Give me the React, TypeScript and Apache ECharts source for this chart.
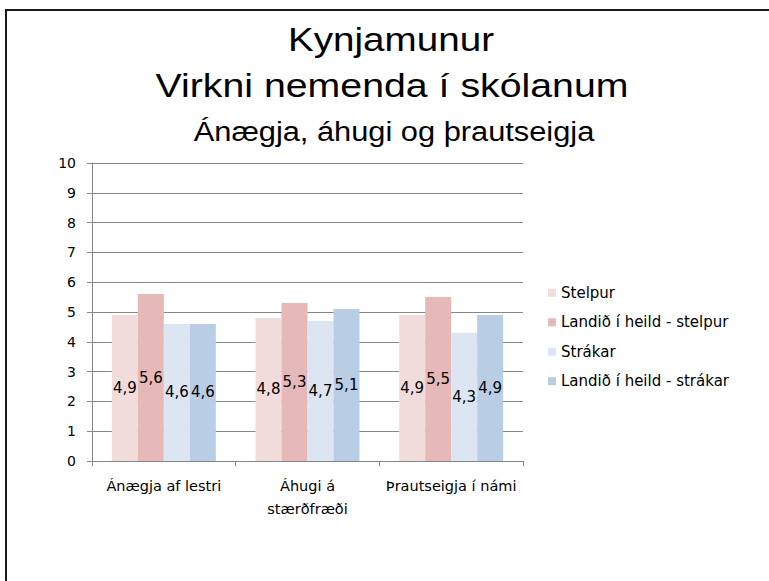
import React, { useEffect, useRef } from "react";
import * as echarts from "echarts";

const categories = ["Ánægja af lestri", "Áhugi á\nstærðfræði", "Þrautseigja í námi"];
const seriesNames = ["Stelpur", "Landið í heild - stelpur", "Strákar", "Landið í heild - strákar"];
const stelpur = [4.9, 4.8, 4.9];
const landStelpur = [5.6, 5.3, 5.5];
const strakar = [4.6, 4.7, 4.3];
const landStrakar = [4.6, 5.1, 4.9];
const colors = ["#f2dcdb", "#e6b9b8", "#dce6f2", "#b9cde5"];
const titles = ["Kynjamunur", "Virkni nemenda í skólanum", "Ánægja, áhugi og þrautseigja"];

const TFONT = "'Liberation Sans', sans-serif";
const FONT = "'DejaVu Sans', sans-serif";

export default function App() {
  const ref = useRef<HTMLDivElement>(null);
  useEffect(() => {
    if (!ref.current) return;
    const chart = echarts.init(ref.current, null, { renderer: "svg" });
    const values = [stelpur, landStelpur, strakar, landStrakar];
    chart.setOption({
      animation: false,
      backgroundColor: "#ffffff",
      textStyle: { fontFamily: FONT },
      graphic: [
        {
          type: "rect",
          shape: { x: 6, y: 10, width: 800, height: 600 },
          style: { fill: "none", stroke: "#1a1a1a", lineWidth: 2 },
          silent: true,
        },
        {
          type: "text",
          x: 391,
          y: 39.5,
          scaleX: 1.17,
          style: { text: titles[0], fontSize: 33, fontFamily: TFONT, fill: "#000", textAlign: "center", textVerticalAlign: "middle" },
        },
        {
          type: "text",
          x: 392,
          y: 85.5,
          scaleX: 1.19,
          style: { text: titles[1], fontSize: 33, fontFamily: TFONT, fill: "#000", textAlign: "center", textVerticalAlign: "middle" },
        },
        {
          type: "text",
          x: 394,
          y: 131.5,
          scaleX: 1.1,
          style: { text: titles[2], fontSize: 28, fontFamily: TFONT, fill: "#000", textAlign: "center", textVerticalAlign: "middle" },
        },
      ],
      legend: {
        orient: "vertical",
        left: 543,
        top: 280,
        itemWidth: 8,
        itemHeight: 8,
        itemGap: 14,
        icon: "rect",
        textStyle: { fontSize: 15, color: "#000", fontFamily: FONT, lineHeight: 15.5 },
        data: seriesNames,
      },
      grid: { left: 92, right: 246, top: 163, bottom: 120, containLabel: false },
      xAxis: {
        type: "category",
        data: categories,
        axisLine: { lineStyle: { color: "#868686" } },
        axisTick: { show: true, length: 5, alignWithLabel: false, lineStyle: { color: "#868686" } },
        axisLabel: { color: "#000", fontSize: 14.5, margin: 13, lineHeight: 23, interval: 0, fontFamily: FONT },
      },
      yAxis: {
        type: "value",
        min: 0,
        max: 10,
        interval: 1,
        axisLine: { show: true, lineStyle: { color: "#868686" } },
        axisTick: { show: true, length: 5, lineStyle: { color: "#868686" } },
        splitLine: { lineStyle: { color: "#868686" } },
        axisLabel: { color: "#000", fontSize: 14, margin: 16, fontFamily: FONT },
      },
      series: seriesNames.map((name, i) => ({
        name,
        type: "bar",
        data: values[i],
        barWidth: 26,
        barGap: "0%",
        itemStyle: { color: colors[i] },
        label: {
          show: true,
          position: "inside",
          fontSize: 15,
          color: "#000",
          fontFamily: FONT,
          formatter: (p: any) => String(p.value).replace(".", ","),
        },
      })),
    });
    return () => chart.dispose();
  }, []);
  return <div ref={ref} style={{ position: "fixed", left: 0, top: 0, width: 769, height: 581 }} />;
}
